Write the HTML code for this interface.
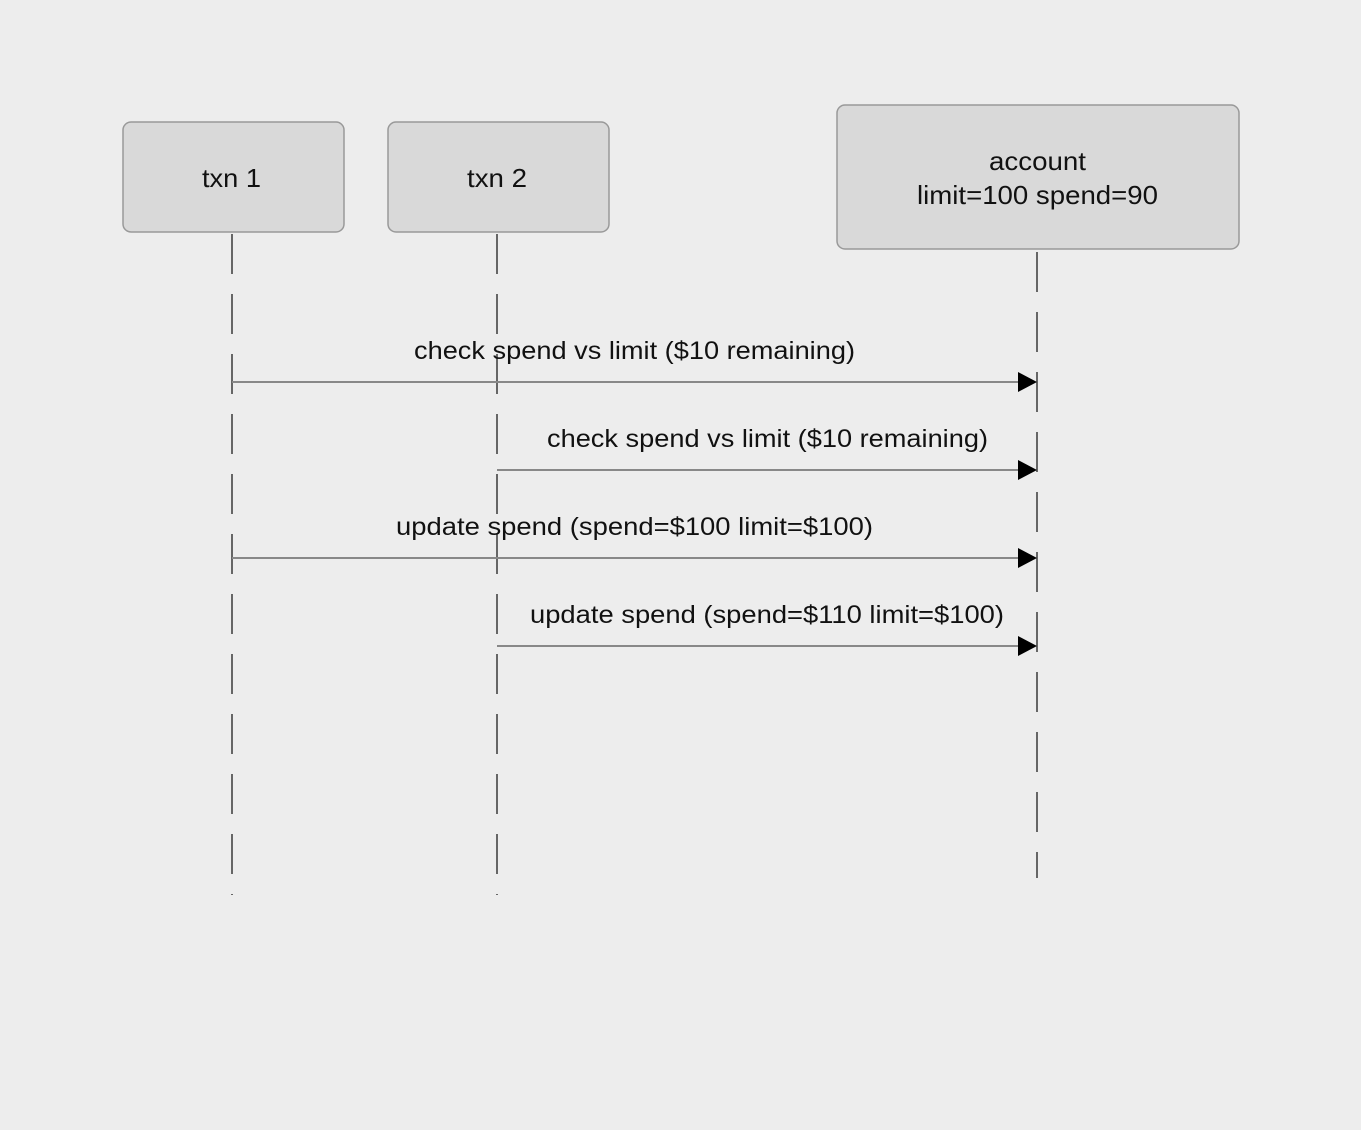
<!DOCTYPE html>
<html><head><style>
html,body{margin:0;padding:0;background:#ededed;}
</style></head><body>
<svg width="1361" height="1130" xmlns="http://www.w3.org/2000/svg" style="display:block">
<rect width="1361" height="1130" fill="#ededed"/>
<g stroke="#666" stroke-width="2" stroke-dasharray="40 20" fill="none">
<line x1="232" y1="234" x2="232" y2="895"/>
<line x1="497" y1="234" x2="497" y2="895"/>
<line x1="1037" y1="252" x2="1037" y2="878"/>
</g>
<g fill="#d9d9d9" stroke="#999" stroke-width="1.5">
<rect x="123" y="122" width="221" height="110" rx="8"/>
<rect x="388" y="122" width="221" height="110" rx="8"/>
<rect x="837" y="105" width="402" height="144" rx="8"/>
</g>
<g font-family="Liberation Sans, sans-serif" font-size="26" fill="#111" lengthAdjust="spacingAndGlyphs">
<text x="202" y="187" textLength="59" lengthAdjust="spacingAndGlyphs">txn 1</text>
<text x="467" y="187" textLength="60" lengthAdjust="spacingAndGlyphs">txn 2</text>
<text x="989" y="170" textLength="97" lengthAdjust="spacingAndGlyphs">account</text>
<text x="917" y="204" textLength="241" lengthAdjust="spacingAndGlyphs">limit=100 spend=90</text>
</g>
<g stroke="#888" stroke-width="2">
<line x1="232" y1="382" x2="1020" y2="382"/>
<line x1="497" y1="470" x2="1020" y2="470"/>
<line x1="232" y1="558" x2="1020" y2="558"/>
<line x1="497" y1="646" x2="1020" y2="646"/>
</g>
<g fill="#000">
<polygon points="1018,372 1037,382 1018,392"/>
<polygon points="1018,460 1037,470 1018,480"/>
<polygon points="1018,548 1037,558 1018,568"/>
<polygon points="1018,636 1037,646 1018,656"/>
</g>
<g font-family="Liberation Sans, sans-serif" font-size="25" fill="#111">
<text x="414" y="359" textLength="441" lengthAdjust="spacingAndGlyphs">check spend vs limit ($10 remaining)</text>
<text x="547" y="447" textLength="441" lengthAdjust="spacingAndGlyphs">check spend vs limit ($10 remaining)</text>
<text x="396" y="535" textLength="477" lengthAdjust="spacingAndGlyphs">update spend (spend=$100 limit=$100)</text>
<text x="530" y="623" textLength="474" lengthAdjust="spacingAndGlyphs">update spend (spend=$110 limit=$100)</text>
</g>
</svg>
</body></html>
